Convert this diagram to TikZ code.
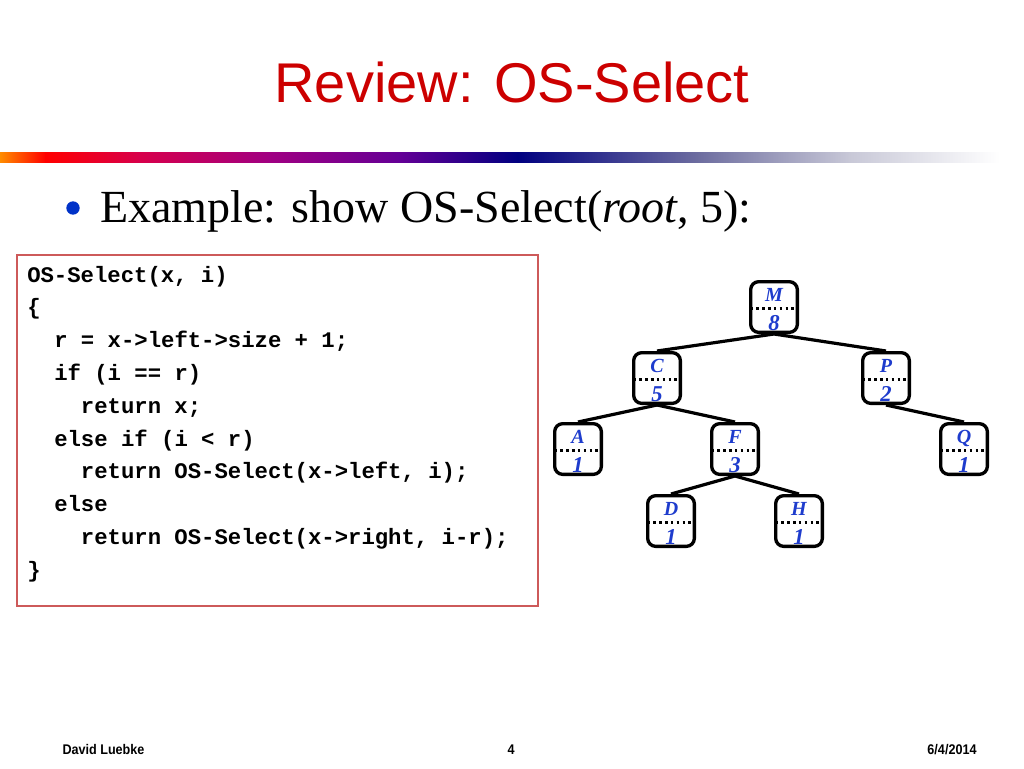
\documentclass[tikz,border=0pt]{standalone}
\usepackage{fontspec}
\setmainfont{Liberation Serif}
\newfontfamily\titlefont{Liberation Sans}
\newfontfamily\codefont{Liberation Mono}
\definecolor{titlered}{RGB}{204,0,0}
\definecolor{nodeblue}{RGB}{30,60,205}
\definecolor{bulletblue}{RGB}{0,50,200}
\definecolor{boxred}{RGB}{205,90,90}
\definecolor{gA}{RGB}{255,140,0}
\definecolor{gB}{RGB}{255,0,0}
\definecolor{gC}{RGB}{215,0,75}
\definecolor{gD}{RGB}{160,0,130}
\definecolor{gE}{RGB}{100,0,150}
\definecolor{gF}{RGB}{0,0,128}
\definecolor{gG}{RGB}{110,110,160}
\definecolor{gH}{RGB}{200,200,215}
\tikzset{
  treenode/.style={draw, line width=2.5pt, rounded corners=6pt, fill=white,
    minimum width=35pt, minimum height=38pt, inner sep=0pt},
  keytext/.style={anchor=base, inner sep=0pt, text=nodeblue,
    font=\bfseries\itshape\fontsize{15}{18}\selectfont},
  sizetext/.style={anchor=base, inner sep=0pt, text=nodeblue,
    font=\bfseries\itshape\fontsize{17}{20}\selectfont},
  dotline/.style={line width=2.2pt, dash pattern=on 2pt off 2.4pt, shorten <=1pt, shorten >=0.5pt},
  treeedge/.style={line width=2.4pt},
  codeline/.style={anchor=base west, inner sep=0pt, font=\codefont\bfseries\fontsize{16.7}{20}\selectfont},
  footer/.style={anchor=base, inner sep=0pt, font=\titlefont\bfseries\fontsize{10.5}{12}\selectfont}
}
\begin{document}
\begin{tikzpicture}[x=0.75pt,y=-0.75pt]
\useasboundingbox (0,0) rectangle (1024,768);
% title
\node[anchor=base, inner sep=0pt, text=titlered, font=\titlefont\fontsize{42}{48}\selectfont] (title) at (512,102) {Review: OS-Select};
% gradient bar
\shade[left color=gA, right color=gB] (0,152) rectangle (46,162);
\shade[left color=gB, right color=gC] (45.5,152) rectangle (140,162);
\shade[left color=gC, right color=gD] (139.5,152) rectangle (270,162);
\shade[left color=gD, right color=gE] (269.5,152) rectangle (400,162);
\shade[left color=gE, right color=gF] (399.5,152) rectangle (518,162);
\shade[left color=gF, right color=gG] (517.5,152) rectangle (700,162);
\shade[left color=gG, right color=gH] (699.5,152) rectangle (850,162);
\shade[left color=gH, right color=white] (849.5,152) rectangle (1000,162);
% bullet line
\node[circle, fill=bulletblue, minimum size=10pt, inner sep=0pt] (bul) at (73,208) {};
\node[anchor=base west, inner sep=0pt, font=\fontsize{34.5}{40}\selectfont] (ex) at (100,222) {Example: show OS-Select(\textit{root}, 5):};
% code box
\draw[boxred, line width=0.9pt] (17,255) rectangle (538,606);
\node[codeline] (c1) at (27,282) {OS-Select(x, i)};
\node[codeline] (c2) at (27,314.8) {\{};
\node[codeline] (c3) at (54,347.6) {r = x->left->size + 1;};
\node[codeline] (c4) at (54,380.4) {if (i == r)};
\node[codeline] (c5) at (80.7,413.2) {return x;};
\node[codeline] (c6) at (54,446) {else if (i < r)};
\node[codeline] (c7) at (80.7,478.8) {return OS-Select(x->left, i);};
\node[codeline] (c8) at (54,511.6) {else};
\node[codeline] (c9) at (80.7,544.4) {return OS-Select(x->right, i-r);};
\node[codeline] (c10) at (27,577.2) {\}};
% tree
\foreach \n/\x/\y/\k/\s in {M/774/307/M/8, C/657/378/C/5, P/886/378/P/2, A/578/449/A/1,
    F/735/449/F/3, Q/964/449/Q/1, D/671/521/D/1, H/799/521/H/1} {
  \node[treenode] (\n) at (\x,\y) {};
  \node[keytext] (\n-key) at (\x,\y-6) {\k};
  \node[sizetext] (\n-size) at (\x,\y+23.5) {\s};
  \draw[dotline] ([yshift=-1.2pt]\n.west) -- ([yshift=-1.2pt]\n.east);
}
\draw[treeedge] (M.south) -- (C.north);
\draw[treeedge] (M.south) -- (P.north);
\draw[treeedge] (C.south) -- (A.north);
\draw[treeedge] (C.south) -- (F.north);
\draw[treeedge] (P.south) -- (Q.north);
\draw[treeedge] (F.south) -- (D.north);
\draw[treeedge] (F.south) -- (H.north);
% footer
\node[footer] (author) at (103.5,754) {\scalebox{0.9}[1]{David Luebke}};
\node[footer] (page) at (511,754) {\scalebox{0.9}[1]{4}};
\node[footer] (date) at (952,754) {\scalebox{0.9}[1]{6/4/2014}};
\end{tikzpicture}
\end{document}
